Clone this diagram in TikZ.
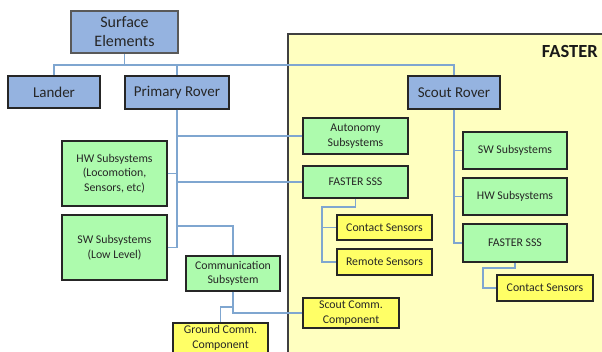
\documentclass[tikz,border=0pt]{standalone}
\usepackage{fontspec}
\setmainfont{Carlito}
\usetikzlibrary{calc}
\definecolor{roverblue}{HTML}{95B3E0}
\definecolor{subgreen}{HTML}{ADFBAD}
\definecolor{partyellow}{HTML}{FFFF66}
\definecolor{areayellow}{HTML}{FFFFC0}
\definecolor{linkblue}{HTML}{7FA6D0}
\tikzset{
  box/.style={draw=black!85, line width=1.3pt, align=center, inner sep=1pt, text=black!85, font=\fontsize{11.8}{14.5}\selectfont},
  bluebox/.style={box, fill=roverblue, font=\fontsize{15}{19}\selectfont},
  greenbox/.style={box, fill=subgreen},
  yellowbox/.style={box, fill=partyellow},
  link/.style={draw=linkblue, line width=1.1pt},
}
\begin{document}
\begin{tikzpicture}[x=1pt,y=-1pt]
\useasboundingbox (0,0) rectangle (602,351);
\clip (0,0) rectangle (602,351);
% FASTER area
\draw[fill=areayellow, draw=black!75, line width=1.3pt] (288,34) rectangle (640,380);
\node[font=\bfseries\fontsize{18.5}{22}\selectfont, text=black!90, anchor=east, inner sep=0pt] (fastertitle) at (598,51) {FASTER};
% top level
\node[bluebox, draw=black!65, line width=2pt, minimum width=107pt, minimum height=42pt, font=\fontsize{16}{19}\selectfont] (se) at (124.5,32) {Surface\\Elements};
\node[bluebox, minimum width=92pt, minimum height=32pt] (lander) at (54,92) {Lander};
\node[bluebox, minimum width=104pt, minimum height=33pt] (prim) at (177,92.5) {Primary Rover};
\node[bluebox, minimum width=92pt, minimum height=33pt] (scout) at (454,92.5) {Scout Rover};
% primary rover subsystems
\node[greenbox, minimum width=105pt, minimum height=65pt] (hw) at (114.5,173.5) {HW Subsystems\\(Locomotion,\\Sensors, etc)};
\node[greenbox, minimum width=105pt, minimum height=65pt] (sw) at (114.5,247.5) {SW Subsystems\\(Low Level)};
\node[greenbox, minimum width=94pt, minimum height=35pt] (comm) at (233,273.5) {Communication\\Subsystem};
\node[yellowbox, minimum width=95pt, minimum height=30pt] (ground) at (220.5,338) {Ground Comm.\\Component};
\node[greenbox, minimum width=105pt, minimum height=36pt] (auto) at (355.5,136) {Autonomy\\Subsystems};
\node[greenbox, minimum width=105pt, minimum height=32pt] (fsssa) at (355.5,182) {FASTER SSS};
\node[yellowbox, minimum width=95pt, minimum height=25pt] (csa) at (384.5,227.5) {Contact Sensors};
\node[yellowbox, minimum width=95pt, minimum height=26pt] (rs) at (384.5,262) {Remote Sensors};
\node[yellowbox, minimum width=96pt, minimum height=30pt] (scomm) at (351,313) {Scout Comm.\\Component};
% scout rover subsystems
\node[greenbox, minimum width=104pt, minimum height=37pt] (swb) at (515,150.5) {SW Subsystems};
\node[greenbox, minimum width=104pt, minimum height=37pt] (hwb) at (515,196.5) {HW Subsystems};
\node[greenbox, minimum width=104pt, minimum height=38pt] (fsssb) at (515,243) {FASTER SSS};
\node[yellowbox, minimum width=96pt, minimum height=26pt] (csb) at (545,288) {Contact Sensors};
% junction points
\coordinate (bus) at (124.5,65);
\coordinate (commtap) at (177,226);
\coordinate (grounddrop) at (233,307);
\coordinate (sensa) at (322,207);
\coordinate (sensb) at (483,268);
% connectors
\draw[link] (se.south) -- (bus) -| (lander.north);
\draw[link] (bus) -| (prim.north);
\draw[link] (bus) -| (scout.north);
\draw[link] (prim.south) |- (sw.east);
\draw[link] (hw.east) -- (hw.east -| prim.south);
\draw[link] (auto.west) -- (auto.west -| prim.south);
\draw[link] (fsssa.west) -- (fsssa.west -| prim.south);
\draw[link] (commtap) -| (comm.north);
\draw[link] (comm.south) |- (scomm.west);
\draw[link] (grounddrop) -| (ground.north);
\draw[link] (fsssa.south) |- (sensa) |- (rs.west);
\draw[link] (sensa) |- (csa.west);
\draw[link] (scout.south) |- (fsssb.west);
\draw[link] (swb.west) -- (swb.west -| scout.south);
\draw[link] (hwb.west) -- (hwb.west -| scout.south);
\draw[link] (fsssb.south) |- (sensb) |- (csb.west);
\end{tikzpicture}
\end{document}
